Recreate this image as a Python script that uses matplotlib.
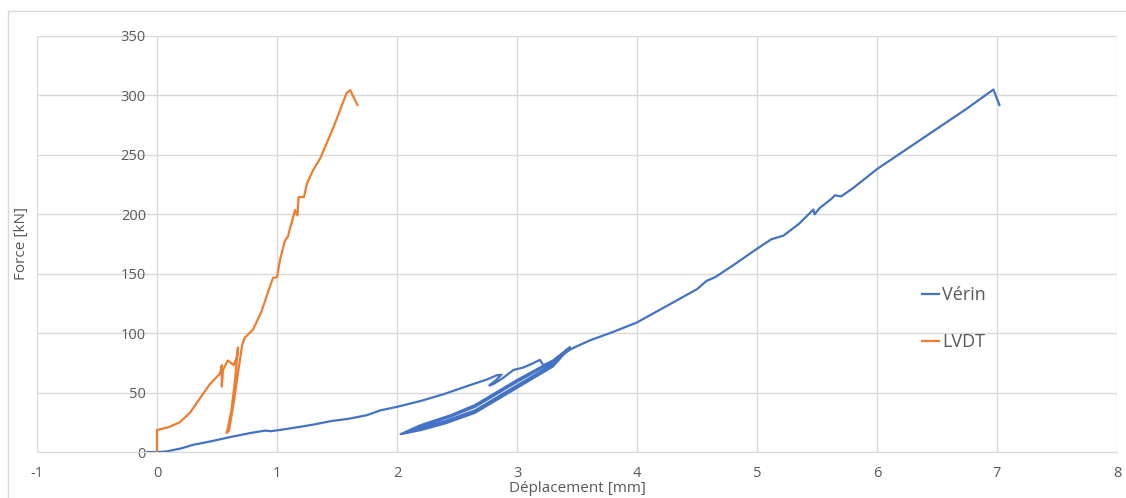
import matplotlib
matplotlib.use("Agg")
import matplotlib.pyplot as plt
from matplotlib.patches import Rectangle

# Load-displacement curves (displacement in mm, force in kN)
verin_disp = [-0.08, 0.0, 0.08, 0.2, 0.3, 0.45, 0.63, 0.78, 0.9, 0.95, 1.02, 1.15, 1.3,
              1.45, 1.6, 1.75, 1.86, 2.0, 2.2, 2.4, 2.6, 2.75, 2.83, 2.87, 2.82, 2.77,
              2.8, 2.88, 2.97, 3.05, 3.12, 3.19, 3.22, 3.3, 3.44,
              3.3, 3.0, 2.65, 2.4, 2.2, 2.03, 2.2, 2.45, 2.65, 3.0, 3.3, 3.44,
              3.3, 3.0, 2.65, 2.4, 2.2, 2.08, 2.2, 2.45, 2.65, 3.0, 3.3, 3.44,
              3.5, 3.61, 3.8, 4.0, 4.25, 4.5, 4.58, 4.65, 4.8, 5.0, 5.12, 5.22, 5.35,
              5.47, 5.48, 5.52, 5.62, 5.65, 5.7, 5.8, 6.0, 6.25, 6.5, 6.75, 6.97, 7.02]
verin_force = [0, 0, 0.5, 3, 6, 9, 13, 16, 18, 17.5, 18.5, 20.5, 23,
               26, 28, 31, 35, 38, 43, 49, 56, 61, 64.5, 65, 60, 56,
               57, 62, 69, 71, 74, 77.5, 73, 76, 88,
               72, 54, 33, 24, 18.5, 15, 22.7, 31, 39.5, 60.5, 77, 88,
               74, 56, 35, 26, 20, 16.5, 21.5, 30, 38, 59, 76, 86,
               89, 94, 101, 109, 123, 137, 144, 147, 157, 171, 179, 182, 192,
               204, 200, 205, 213, 216, 215, 222, 238, 255, 272, 289, 305, 292]

lvdt_disp = [0.0, 0.0, 0.1, 0.19, 0.275, 0.35, 0.44, 0.525, 0.54, 0.54, 0.55,
             0.59, 0.617, 0.64, 0.67, 0.675, 0.65, 0.62, 0.59, 0.58, 0.6, 0.64,
             0.68, 0.71, 0.73, 0.8, 0.87, 0.94, 0.967, 1.0, 1.025, 1.067, 1.09,
             1.15, 1.17, 1.18, 1.225, 1.25, 1.3, 1.36, 1.47, 1.58, 1.61, 1.67]
lvdt_force = [0, 18.5, 21, 25, 33, 44, 57, 66, 73, 55, 69,
              77, 75, 73, 81.5, 88, 60, 35, 20, 16, 18, 42,
              70, 90, 96, 103, 118, 139, 146.5, 147, 161.6, 178, 181,
              203.5, 199, 214.5, 214.5, 226, 237, 247, 273, 302, 304.5, 292]

series_names = ["Vérin", "LVDT"]
x_ticks = list(range(-1, 9))
y_ticks = list(range(0, 351, 50))

text_grey = "#595959"
grid_grey = "#d9d9d9"
plt.rcParams["font.family"] = ["Open Sans", "DejaVu Sans"]
plt.rcParams["axes.unicode_minus"] = False

fig = plt.figure(figsize=(11.26, 4.98), dpi=100)
ax = fig.add_axes([37 / 1126, 1 - 452 / 498, 1080 / 1126, 416 / 498])

ax.plot(verin_disp, verin_force, color="#4472C4", lw=1.6, label=series_names[0],
        solid_joinstyle="round")
ax.plot(lvdt_disp, lvdt_force, color="#ED7D31", lw=1.6, label=series_names[1],
        solid_joinstyle="round")

ax.set_xlim(-1, 8)
ax.set_ylim(0, 350)
ax.set_xticks(x_ticks)
ax.set_yticks(y_ticks)
ax.grid(True, color=grid_grey, lw=1.0)
ax.set_axisbelow(True)

for side in ("top", "right"):
    ax.spines[side].set_visible(False)
ax.spines["bottom"].set_color(grid_grey)
ax.spines["left"].set_position(("data", 0))
ax.spines["left"].set_color("none")

ax.tick_params(axis="x", length=0, pad=10, labelsize=10.5, labelcolor=text_grey)
ax.tick_params(axis="y", length=0, pad=8, labelsize=10.5, labelcolor=text_grey)

fig.text(577 / 1126, 1 - 488 / 498, "Déplacement [mm]", ha="center", va="center",
         fontsize=11, color=text_grey)
fig.text(22 / 1126, 1 - 244 / 498, "Force [kN]", ha="center", va="center",
         rotation=90, fontsize=11, color=text_grey)

leg = ax.legend(loc="upper left", bbox_to_anchor=((922 - 37) / 1080, (452 - 286) / 416),
                frameon=False, fontsize=13, handlelength=0.95, handletextpad=0.15,
                labelspacing=1.62, borderpad=0, borderaxespad=0)
for t in leg.get_texts():
    t.set_color(text_grey)

fig.add_artist(Rectangle((8 / 1126, -0.05), 1.2, 1 - 11 / 498 + 0.05,
                         transform=fig.transFigure, fill=False,
                         edgecolor=grid_grey, lw=1.0))

fig.savefig("out.png", dpi=100, facecolor="white")
